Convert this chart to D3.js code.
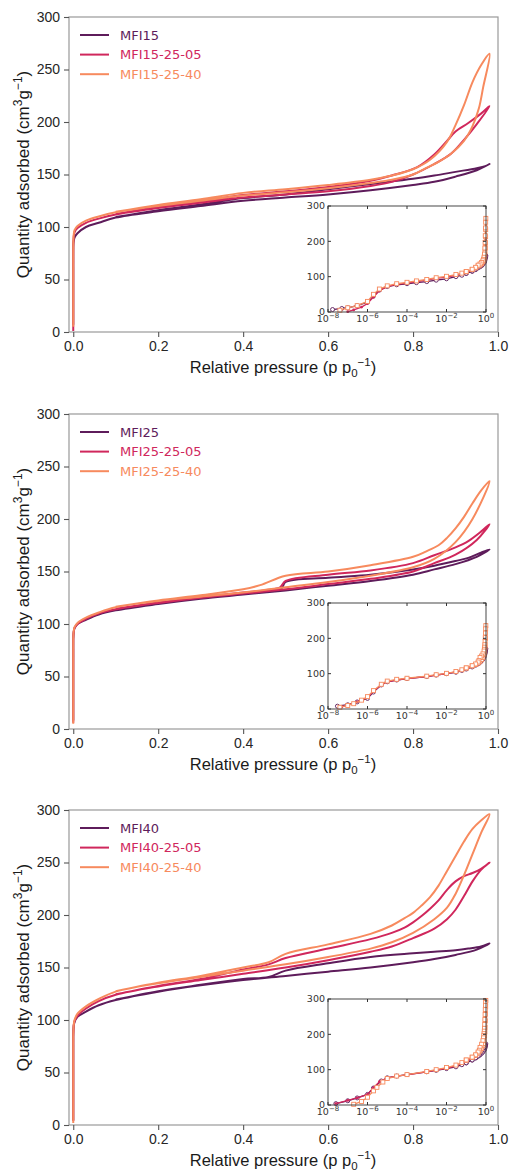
<!DOCTYPE html>
<html>
<head>
<meta charset="utf-8">
<script src="https://cdn.jsdelivr.net/npm/d3@7/dist/d3.min.js"></script>
<style>
  body { margin: 0; background: #fff; }
  svg { display: block; }
</style>
</head>
<body>
<div id="chart"></div>
<script>
// colours for the three samples of each panel
const colors = ["#5e1c5b", "#d0275c", "#f78a5e"]

// axis ticks
const xTicks = [0, 0.2, 0.4, 0.6, 0.8, 1.0]
const yTicks = [0, 50, 100, 150, 200, 250, 300]
const insetXTicks = [1e-8, 1e-6, 1e-4, 1e-2, 1]
const insetXExp = ["\u22128", "\u22126", "\u22124", "\u22122", "0"]
const insetYTicks = [0, 100, 200, 300]

// legend names
const names15 = ["MFI15", "MFI15-25-05", "MFI15-25-40"]
const names25 = ["MFI25", "MFI25-25-05", "MFI25-25-40"]
const names40 = ["MFI40", "MFI40-25-05", "MFI40-25-40"]

// isotherms: [p/p0, quantity]  adsorption up, desorption down
const mfi15Ads = [[1.7e-8,7],[5e-8,10],[1e-7,12],[3e-7,18],[1e-6,28],[2e-6,45],[4e-6,62],[1e-5,72],[3e-5,77],[1e-4,80],[3e-4,83],[1e-3,86],[3e-3,90],[0.01,94],[0.03,100],[0.06,104],[0.1,109],[0.2,115],[0.3,120],[0.4,125],[0.5,128],[0.6,131],[0.7,135],[0.8,140],[0.85,143],[0.9,148],[0.95,154],[0.98,160]]
const mfi15Des = [[0.97,158],[0.95,156],[0.9,152.5],[0.85,149],[0.8,146],[0.7,141],[0.6,136],[0.5,131],[0.4,127.5],[0.3,121.5],[0.2,116],[0.1,109.5]]
const mfi1505Ads = [[1e-7,1],[2e-7,6],[5e-7,14],[1e-6,24],[2e-6,42],[4e-6,60],[1e-5,72],[3e-5,78],[1e-4,82],[3e-4,86],[1e-3,90],[3e-3,95],[0.01,99],[0.03,104],[0.06,108],[0.1,112],[0.2,118],[0.3,123],[0.4,128],[0.5,131],[0.6,134],[0.7,139],[0.75,143],[0.8,150],[0.85,160],[0.89,170],[0.92,183],[0.95,198],[0.98,215]]
const mfi1505Des = [[0.96,208],[0.93,199],[0.9,191],[0.88,182],[0.85,169],[0.81,157],[0.75,149],[0.7,144],[0.6,138],[0.5,134],[0.4,130.5],[0.3,124.5],[0.2,119],[0.1,112.5]]
const mfi1540Ads = [[4e-8,5],[1e-7,12],[3e-7,18],[1e-6,30],[2e-6,50],[4e-6,65],[1e-5,74],[3e-5,80],[1e-4,84],[3e-4,88],[1e-3,92],[3e-3,97],[0.01,101],[0.03,106],[0.06,110],[0.1,114],[0.2,120],[0.3,125],[0.4,130],[0.5,133],[0.6,137],[0.7,142],[0.75,145],[0.8,150],[0.83,156],[0.86,162],[0.89,170],[0.92,182],[0.94,196],[0.955,213],[0.965,233],[0.98,265]]
const mfi1540Des = [[0.96,254],[0.94,238],[0.92,216],[0.9,197],[0.88,181],[0.84,164],[0.8,155],[0.75,149],[0.7,145],[0.6,140],[0.5,136],[0.4,132.5],[0.3,126.5],[0.2,121],[0.1,114.5]]

const mfi25Ads = [[3e-8,8],[1e-7,12],[3e-7,20],[1e-6,30],[2e-6,48],[5e-6,68],[1e-5,77],[3e-5,82],[1e-4,86],[1e-3,92],[3e-3,96],[0.01,100],[0.03,104],[0.06,109],[0.1,113],[0.2,119],[0.3,124],[0.4,128],[0.5,132],[0.6,136.5],[0.7,141],[0.8,147],[0.85,152],[0.9,157],[0.95,164],[0.98,171]]
const mfi25Des = [[0.96,168],[0.93,163],[0.9,160],[0.85,155.5],[0.8,152],[0.7,147],[0.6,144],[0.5,140],[0.49,134],[0.45,131],[0.35,127]]
const mfi2505Ads = [[5e-8,6],[1e-7,11],[3e-7,20],[1e-6,32],[2e-6,50],[5e-6,68],[1e-5,77],[3e-5,82],[1e-4,86],[1e-3,92],[3e-3,96],[0.01,100],[0.03,105],[0.06,110],[0.1,114],[0.2,120],[0.3,125],[0.4,129],[0.5,133],[0.6,138],[0.7,143],[0.8,150],[0.85,158],[0.9,166],[0.95,180],[0.98,195]]
const mfi2505Des = [[0.96,188],[0.93,179],[0.9,173],[0.85,165.5],[0.8,158],[0.7,151],[0.6,147],[0.5,141],[0.487,135],[0.45,132],[0.4,130],[0.3,125.5],[0.2,120.5],[0.1,114.5]]
const mfi2540Ads = [[4e-8,5],[1e-7,10],[2e-7,15],[5e-7,25],[1e-6,35],[2e-6,52],[5e-6,70],[1e-5,79],[3e-5,84],[1e-4,87],[1e-3,93],[3e-3,97],[0.01,101],[0.03,106],[0.06,111],[0.1,116],[0.2,122],[0.3,126],[0.4,130],[0.5,135],[0.6,140],[0.7,146],[0.8,154],[0.85,162],[0.9,178],[0.94,200],[0.98,236]]
const mfi2540Des = [[0.96,227],[0.94,215],[0.92,202],[0.9,191],[0.88,182],[0.86,175],[0.83,169],[0.8,164],[0.7,156],[0.6,150],[0.5,146],[0.44,137],[0.4,133],[0.3,127.5],[0.2,122.5],[0.1,116.5]]

const mfi40Ads = [[2.5e-8,4],[1e-7,12],[3e-7,20],[1e-6,30],[2e-6,48],[5e-6,68],[1e-5,77],[3e-5,82],[1e-4,86],[1e-3,94],[3e-3,98],[0.01,103],[0.03,108],[0.06,114],[0.1,119],[0.2,127],[0.3,133],[0.4,138],[0.5,142],[0.6,146],[0.7,150],[0.8,155],[0.85,158],[0.9,162],[0.95,167],[0.98,173]]
const mfi40Des = [[0.96,170],[0.93,168],[0.9,166.5],[0.85,165],[0.8,163.5],[0.7,160],[0.6,154],[0.5,147],[0.46,141],[0.4,139],[0.3,133.5],[0.2,127.5],[0.1,119.5]]
const mfi4005Ads = [[2.5e-8,4],[1e-7,13],[3e-7,20],[1e-6,30],[2e-6,49],[4e-6,66],[1e-5,77],[3e-5,82],[1e-4,85],[1e-3,94],[3e-3,99],[0.01,104],[0.03,111],[0.06,118],[0.1,124],[0.2,132],[0.3,138],[0.4,144],[0.5,150],[0.6,157],[0.7,165],[0.75,170],[0.8,178],[0.85,187],[0.88,196],[0.9,205],[0.92,218],[0.94,232],[0.96,243],[0.98,250]]
const mfi4005Des = [[0.96,244],[0.94,240],[0.92,237],[0.9,232],[0.88,224],[0.86,214],[0.84,206],[0.82,199],[0.8,193],[0.78,188],[0.75,183],[0.7,177],[0.6,168],[0.5,159],[0.46,153],[0.4,148],[0.3,139],[0.2,132.5],[0.1,124.5]]
const mfi4040Ads = [[2e-7,2],[5e-7,10],[1e-6,22],[2e-6,40],[3e-6,50],[6e-6,65],[1e-5,75],[3e-5,82],[1e-4,86],[1e-3,95],[3e-3,100],[0.01,106],[0.03,113],[0.06,120],[0.1,127],[0.2,135],[0.3,141],[0.4,147],[0.5,153],[0.6,160],[0.7,168],[0.75,174],[0.8,183],[0.85,196],[0.88,207],[0.9,220],[0.92,238],[0.94,258],[0.96,278],[0.98,296]]
const mfi4040Des = [[0.96,290],[0.94,282],[0.92,270],[0.9,256],[0.88,242],[0.86,228],[0.84,217],[0.82,209],[0.8,202],[0.78,197],[0.75,190],[0.7,182],[0.6,172],[0.5,163],[0.46,155],[0.4,150],[0.3,142],[0.2,135.5],[0.1,127.5]]

const panels = [
  { top: 17, names: names15, series: [mfi15Ads.concat(mfi15Des), mfi1505Ads.concat(mfi1505Des), mfi1540Ads.concat(mfi1540Des)] },
  { top: 414, names: names25, series: [mfi25Ads.concat(mfi25Des), mfi2505Ads.concat(mfi2505Des), mfi2540Ads.concat(mfi2540Des)] },
  { top: 810, names: names40, series: [mfi40Ads.concat(mfi40Des), mfi4005Ads.concat(mfi4005Des), mfi4040Ads.concat(mfi4040Des)] }
]

const W = 509, H = 1171
const plotH = 315
const axisFont = "'Liberation Sans', Arial, sans-serif"
const smallFont = "'DejaVu Sans', sans-serif"

const svg = d3.select("#chart").append("svg")
  .attr("width", W).attr("height", H)
  .attr("viewBox", [0, 0, W, H])

const x = d3.scaleLinear().domain([-0.01, 1.0]).range([69, 498])
const y = d3.scaleLinear().domain([0, 300]).range([plotH, 0])
const xi = d3.scaleLog().domain([1e-8, 1]).range([328, 486])
const yi = d3.scaleLinear().domain([0, 300]).range([295, 189])

const line = d3.line().x(d => x(d[0])).y(d => y(d[1])).curve(d3.curveCatmullRom.alpha(0.5))
const lineInset = d3.line().x(d => xi(d[0])).y(d => yi(d[1]))

panels.forEach(panel => {
  const g = svg.append("g").attr("transform", `translate(0,${panel.top})`)

  // frame
  g.append("rect")
    .attr("x", x.range()[0]).attr("y", 0)
    .attr("width", x.range()[1] - x.range()[0]).attr("height", plotH)
    .attr("fill", "none").attr("stroke", "#999").attr("stroke-width", 1.2)

  // axes
  const ax = g.append("g").attr("transform", `translate(0,${plotH})`)
    .call(d3.axisBottom(x).tickValues(xTicks).tickFormat(d3.format(".1f")).tickSize(5).tickPadding(4))
  const ay = g.append("g").attr("transform", `translate(${x.range()[0]},0)`)
    .call(d3.axisLeft(y).tickValues(yTicks).tickFormat(d3.format("d")).tickSize(5).tickPadding(4))
  ;[ax, ay].forEach(a => {
    a.select(".domain").remove()
    a.selectAll(".tick line").attr("stroke", "#555").attr("stroke-width", 1.1)
    a.selectAll(".tick text").attr("fill", "#262626").style("font-family", axisFont).style("font-size", "14px")
  })

  // axis titles
  const xl = g.append("text")
    .attr("x", 283).attr("y", plotH + 41)
    .attr("text-anchor", "middle")
    .style("font-family", axisFont).style("font-size", "16.5px").attr("fill", "#1a1a1a")
  xl.append("tspan").text("Relative pressure (p p")
  xl.append("tspan").attr("dy", 4).style("font-size", "11.5px").text("0")
  xl.append("tspan").attr("dy", -11).style("font-size", "11.5px").text("\u22121")
  xl.append("tspan").attr("dy", 7).text(")")

  const yl = g.append("text")
    .attr("transform", `translate(29,${plotH / 2}) rotate(-90)`)
    .attr("text-anchor", "middle")
    .style("font-family", axisFont).style("font-size", "17px").attr("fill", "#1a1a1a")
  yl.append("tspan").text("Quantity adsorbed (cm")
  yl.append("tspan").attr("dy", -7).style("font-size", "12px").text("3")
  yl.append("tspan").attr("dy", 7).text("g")
  yl.append("tspan").attr("dy", -7).style("font-size", "12px").text("\u22121")
  yl.append("tspan").attr("dy", 7).text(")")

  // isotherm loops
  panel.series.forEach((s, i) => {
    g.append("path")
      .datum(s)
      .attr("d", line)
      .attr("fill", "none")
      .attr("stroke", colors[i])
      .attr("stroke-width", 2)
      .attr("stroke-linejoin", "round")
  })

  // legend
  const lg = g.append("g")
  panel.names.forEach((n, i) => {
    const ly = 18 + i * 19.6
    lg.append("line").attr("x1", 80).attr("x2", 109).attr("y1", ly).attr("y2", ly)
      .attr("stroke", colors[i]).attr("stroke-width", 2)
    lg.append("text").attr("x", 120).attr("y", ly).attr("dy", "0.36em")
      .style("font-family", smallFont).style("font-size", "13px")
      .attr("fill", colors[i]).text(n)
  })

  // inset (log pressure)
  const ig = g.append("g")
  ig.append("rect")
    .attr("x", xi.range()[0]).attr("y", yi.range()[1])
    .attr("width", xi.range()[1] - xi.range()[0]).attr("height", yi.range()[0] - yi.range()[1])
    .attr("fill", "#fff")

  panel.series.forEach((s, i) => {
    ig.append("path").datum(s).attr("d", lineInset)
      .attr("fill", "none").attr("stroke", colors[i]).attr("stroke-width", 1.3)
    const pts = ig.append("g")
    if (i === 0) {
      pts.selectAll("circle").data(s).join("circle")
        .attr("cx", d => xi(d[0])).attr("cy", d => yi(d[1])).attr("r", 2)
        .attr("fill", "#fff").attr("stroke", colors[i]).attr("stroke-width", 0.9)
    } else if (i === 1) {
      pts.selectAll("circle").data(s).join("circle")
        .attr("cx", d => xi(d[0])).attr("cy", d => yi(d[1])).attr("r", 1.4)
        .attr("fill", colors[i])
    } else {
      pts.selectAll("rect").data(s).join("rect")
        .attr("x", d => xi(d[0]) - 2).attr("y", d => yi(d[1]) - 2)
        .attr("width", 4).attr("height", 4)
        .attr("fill", "#fff").attr("stroke", colors[i]).attr("stroke-width", 0.9)
    }
  })

  ig.append("rect")
    .attr("x", xi.range()[0]).attr("y", yi.range()[1])
    .attr("width", xi.range()[1] - xi.range()[0]).attr("height", yi.range()[0] - yi.range()[1])
    .attr("fill", "none").attr("stroke", "#333").attr("stroke-width", 0.9)

  // inset ticks, pointing inward on all sides
  insetXTicks.forEach((t, k) => {
    const tx = xi(t)
    ig.append("line").attr("x1", tx).attr("x2", tx).attr("y1", yi.range()[0]).attr("y2", yi.range()[0] - 3).attr("stroke", "#333")
    ig.append("line").attr("x1", tx).attr("x2", tx).attr("y1", yi.range()[1]).attr("y2", yi.range()[1] + 3).attr("stroke", "#333")
    const lab = ig.append("text").attr("x", tx).attr("y", yi.range()[0] + 10)
      .attr("text-anchor", "middle")
      .style("font-family", smallFont).style("font-size", "9.5px").attr("fill", "#333")
    lab.append("tspan").text("10")
    lab.append("tspan").attr("dy", -4).style("font-size", "7px").text(insetXExp[k])
  })
  insetYTicks.forEach(t => {
    const ty = yi(t)
    ig.append("line").attr("x1", xi.range()[0]).attr("x2", xi.range()[0] + 3).attr("y1", ty).attr("y2", ty).attr("stroke", "#333")
    ig.append("line").attr("x1", xi.range()[1]).attr("x2", xi.range()[1] - 3).attr("y1", ty).attr("y2", ty).attr("stroke", "#333")
    ig.append("text").attr("x", xi.range()[0] - 3).attr("y", ty).attr("dy", "0.35em")
      .attr("text-anchor", "end")
      .style("font-family", smallFont).style("font-size", "9.5px").attr("fill", "#333")
      .text(t)
  })
})
</script>
</body>
</html>
